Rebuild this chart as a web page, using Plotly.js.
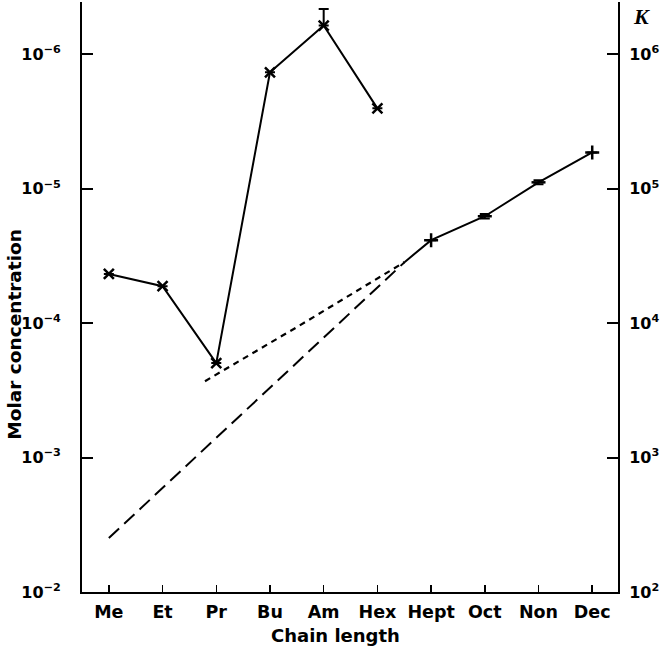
<!DOCTYPE html>
<html>
<head>
<meta charset="utf-8">
<script src="https://cdn.plot.ly/plotly-3.0.1.min.js"></script>
<style>html,body{margin:0;padding:0;background:#fff;}#chart{width:662px;height:650px;}</style>
</head>
<body>
<div id="chart"></div>
<script>
// Categories (chain length)
var categories = ["Me", "Et", "Pr", "Bu", "Am", "Hex", "Hept", "Oct", "Non", "Dec"];
var catIndex = [0, 1, 2, 3, 4, 5, 6, 7, 8, 9];

// Short chains: molar concentration (x markers)
var shortX = [0, 1, 2, 3, 4, 5];
var shortConc = [4.3e-5, 5.3e-5, 1.98e-4, 1.36e-6, 6.1e-7, 2.52e-6];
var shortErrTop = [null, null, null, null, 4.6e-7, null];

// Long chains: molar concentration (+ markers)
var longX = [5.51, 6, 7, 8, 9];
var longConc = [3.5e-5, 2.41e-5, 1.6e-5, 8.95e-6, 5.36e-6];
var longMarked = [false, true, true, true, true];
var longErr = [0, 0, 0.06e-5, 0.03e-5, 0];

// Long-dashed extrapolation
var longDashX = [0, 2, 4, 5.51];
var longDashConc = [3.97e-3, 7.16e-4, 1.28e-4, 3.5e-5];

// Short-dashed extrapolation
var shortDashX = [1.79, 3.5, 5.51];
var shortDashConc = [2.7e-4, 1.07e-4, 3.5e-5];

// Axis ticks
var concTicks = [1e-2, 1e-3, 1e-4, 1e-5, 1e-6];
var concTickText = ["10<sup>−2</sup>", "10<sup>−3</sup>", "10<sup>−4</sup>", "10<sup>−5</sup>", "10<sup>−6</sup>"];
var kTicks = [1e2, 1e3, 1e4, 1e5, 1e6];
var kTickText = ["10<sup>2</sup>", "10<sup>3</sup>", "10<sup>4</sup>", "10<sup>5</sup>", "10<sup>6</sup>"];

var FONT = "DejaVu Sans";
var amErrUp = shortConc.map(function (v, i) { return shortErrTop[i] === null ? 0 : v - shortErrTop[i]; });

var traces = [
  {
    x: longDashX, y: longDashConc, mode: "lines", type: "scatter",
    line: {color: "#000", width: 2, dash: "14px,7px"}, hoverinfo: "skip"
  },
  {
    x: shortDashX, y: shortDashConc, mode: "lines", type: "scatter",
    line: {color: "#000", width: 2.2, dash: "6px,5px"}, hoverinfo: "skip"
  },
  {
    x: shortX, y: shortConc, mode: "lines+markers", type: "scatter",
    line: {color: "#000", width: 2},
    marker: {symbol: "x-thin", size: 10, line: {color: "#000", width: 2.5}, color: "#000"},
    error_y: {type: "data", symmetric: false, array: amErrUp.map(function(){return 0;}), arrayminus: amErrUp,
      color: "#000", thickness: 2, width: 5}
  },
  {
    x: longX, y: longConc, mode: "lines", type: "scatter",
    line: {color: "#000", width: 2}
  },
  {
    x: longX.filter(function (v, i) { return longMarked[i]; }),
    y: longConc.filter(function (v, i) { return longMarked[i]; }),
    mode: "markers", type: "scatter",
    marker: {symbol: ["cross-thin", "line-ew", "line-ew", "cross-thin"], size: 10, line: {color: "#000", width: 2.5}, color: "#000"},
    error_y: {type: "data", symmetric: true, array: longErr.filter(function (v, i) { return longMarked[i]; }),
      color: "#000", thickness: 2, width: 5}
  },
  {
    x: [9], y: [1 / longConc[4]], yaxis: "y2", mode: "markers", type: "scatter",
    marker: {opacity: 0}, hoverinfo: "skip"
  }
];

var layout = {
  width: 662, height: 650,
  margin: {l: 82, r: 44, t: 2, b: 58},
  paper_bgcolor: "#fff", plot_bgcolor: "#fff",
  showlegend: false,
  font: {family: FONT, color: "#000", size: 14},
  xaxis: {
    range: [-0.5, 9.48], tickmode: "array", tickvals: catIndex, ticktext: categories,
    showline: true, linecolor: "#000", linewidth: 2, ticks: "inside", ticklen: 7, tickwidth: 1.5, tickcolor: "#000",
    showgrid: false, zeroline: false, ticklabelstandoff: 3,
    tickfont: {family: FONT, size: 17.5, weight: "bold"}
  },
  yaxis: {
    type: "log", range: [-2, -6.39], tickmode: "array", tickvals: concTicks, ticktext: concTickText,
    showline: true, linecolor: "#000", linewidth: 2, ticks: "inside", ticklen: 11, tickwidth: 2, tickcolor: "#000",
    showgrid: false, zeroline: false, ticklabelstandoff: 16,
    tickfont: {family: FONT, size: 16, weight: "bold"}
  },
  yaxis2: {
    type: "log", range: [2, 6.39], overlaying: "y", side: "right", tickmode: "array", tickvals: kTicks, ticktext: kTickText,
    showline: true, linecolor: "#000", linewidth: 2, ticks: "inside", ticklen: 11, tickwidth: 2, tickcolor: "#000",
    showgrid: false, zeroline: false, ticklabelstandoff: 6,
    tickfont: {family: FONT, size: 16, weight: "bold"}
  },
  annotations: [
    {text: "Molar concentration", xref: "paper", yref: "paper", x: -0.126, y: 0.437, showarrow: false, textangle: -90,
      font: {family: FONT, size: 18.5, weight: "bold"}, xanchor: "center", yanchor: "middle"},
    {text: "Chain length", xref: "paper", yref: "paper", x: 0.473, y: -0.053, showarrow: false,
      font: {family: FONT, size: 18, weight: "bold"}, xanchor: "center", yanchor: "top"},
    {text: "<i>K</i>", xref: "paper", yref: "paper", x: 1.025, y: 1.0, showarrow: false,
      font: {family: "Liberation Serif", size: 22, weight: "bold"}, xanchor: "left", yanchor: "top"}
  ]
};

Plotly.newPlot("chart", traces, layout, {displayModeBar: false, staticPlot: true});
</script>
</body>
</html>
